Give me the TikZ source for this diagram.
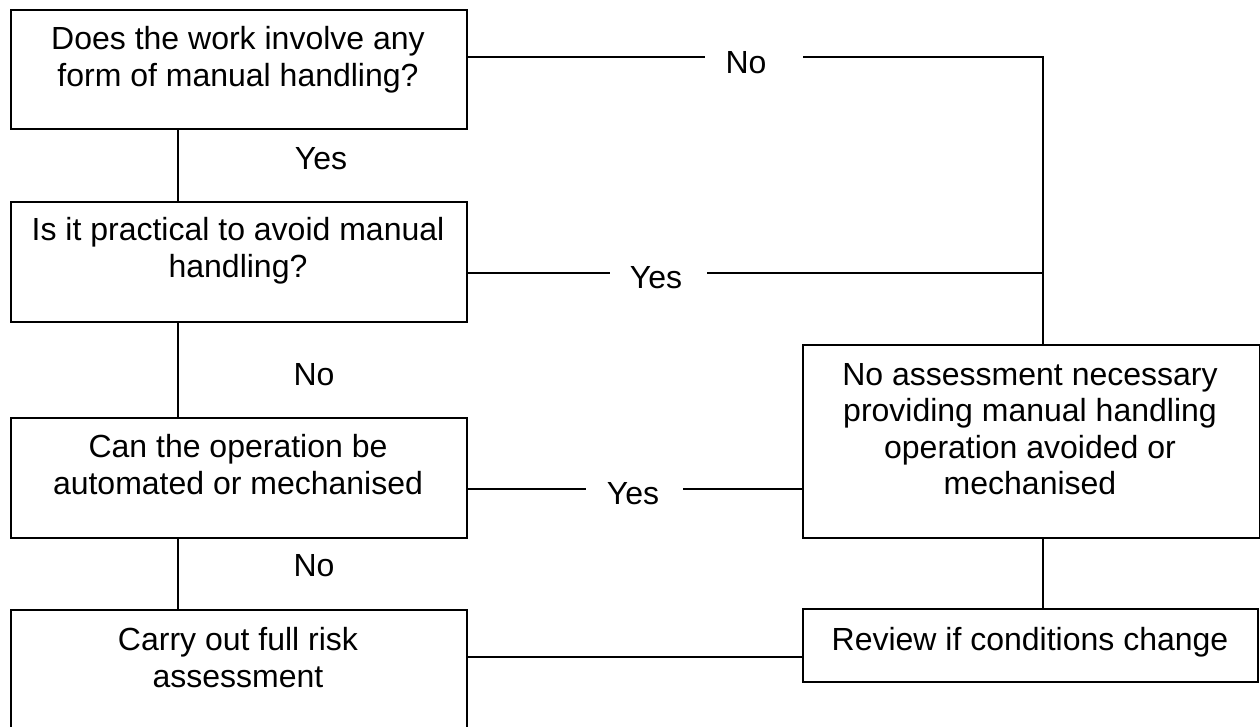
\documentclass[tikz,border=0pt]{standalone}
\usepackage{fontspec}
\setmainfont{Liberation Sans}
\begin{document}
\begin{tikzpicture}[x=1pt,y=-1pt,
  box/.style={draw,line width=1.6pt,minimum width=456pt,inner sep=0pt,anchor=north west},
  txt/.style={align=center,anchor=base,inner sep=0pt,font=\fontsize{32}{36.5}\selectfont},
  lbl/.style={anchor=base,inner sep=0pt,font=\fontsize{32}{36.5}\selectfont},
  conn/.style={line width=1.6pt}]
\useasboundingbox (0,0) rectangle (1260,726);
\clip (0,0) rectangle (1260,726);
% boxes
\node[box,minimum height=119pt] (b1) at (10,9) {};
\node[box,minimum height=120pt] (b2) at (10,201) {};
\node[box,minimum height=120pt] (b3) at (10,417) {};
\node[box,minimum height=130pt] (b4) at (10,609) {};
\node[box,minimum width=457pt,minimum height=193pt] (b5) at (802,344) {};
\node[box,minimum width=455pt,minimum height=73pt] (b6) at (802,608) {};
% texts (anchor base = baseline of last line)
\node[txt] (t1) at (238,86) {Does the work involve any\\form of manual handling?};
\node[txt] (t2) at (238,277) {Is it practical to avoid manual\\handling?};
\node[txt] (t3) at (238,494) {Can the operation be\\automated or mechanised};
\node[txt] (t4) at (238,687) {Carry out full risk\\assessment};
\node[txt] (t5) at (1030,494.5) {No assessment necessary\\providing manual handling\\operation avoided or\\mechanised};
\node[txt] (t6) at (1030,650) {Review if conditions change};
% labels
\node[lbl] (l1) at (746,73) {No};
\node[lbl] (l2) at (656,288) {Yes};
\node[lbl] (l3) at (633,504) {Yes};
\node[lbl] (l4) at (321,169) {Yes};
\node[lbl] (l5) at (314,385) {No};
\node[lbl] (l6) at (314,576) {No};
% junction coordinates
\coordinate (n1) at (705,57);
\coordinate (n2) at (803,57);
\coordinate (j1) at (1043,57);
\coordinate (y1) at (610,273);
\coordinate (y2) at (707,273);
\coordinate (y3) at (586,489);
\coordinate (y4) at (683,489);
% connectors
\draw[conn] ([xshift=168pt]b1.south west) -- ([xshift=168pt]b2.north west);
\draw[conn] ([xshift=168pt]b2.south west) -- ([xshift=168pt]b3.north west);
\draw[conn] ([xshift=168pt]b3.south west) -- ([xshift=168pt]b4.north west);
\draw[conn] (b1.east |- n1) -- (n1);
\draw[conn] (n2) -- (j1) -- (b5.north -| j1);
\draw[conn] (b2.east |- y1) -- (y1);
\draw[conn] (y2) -- (j1 |- y2);
\draw[conn] (b3.east |- y3) -- (y3);
\draw[conn] (y4) -- (b5.west |- y4);
\draw[conn] (b5.south -| j1) -- (b6.north -| j1);
\draw[conn] (b4.east |- 0,657) -- (b6.west |- 0,657);
\end{tikzpicture}
\end{document}
